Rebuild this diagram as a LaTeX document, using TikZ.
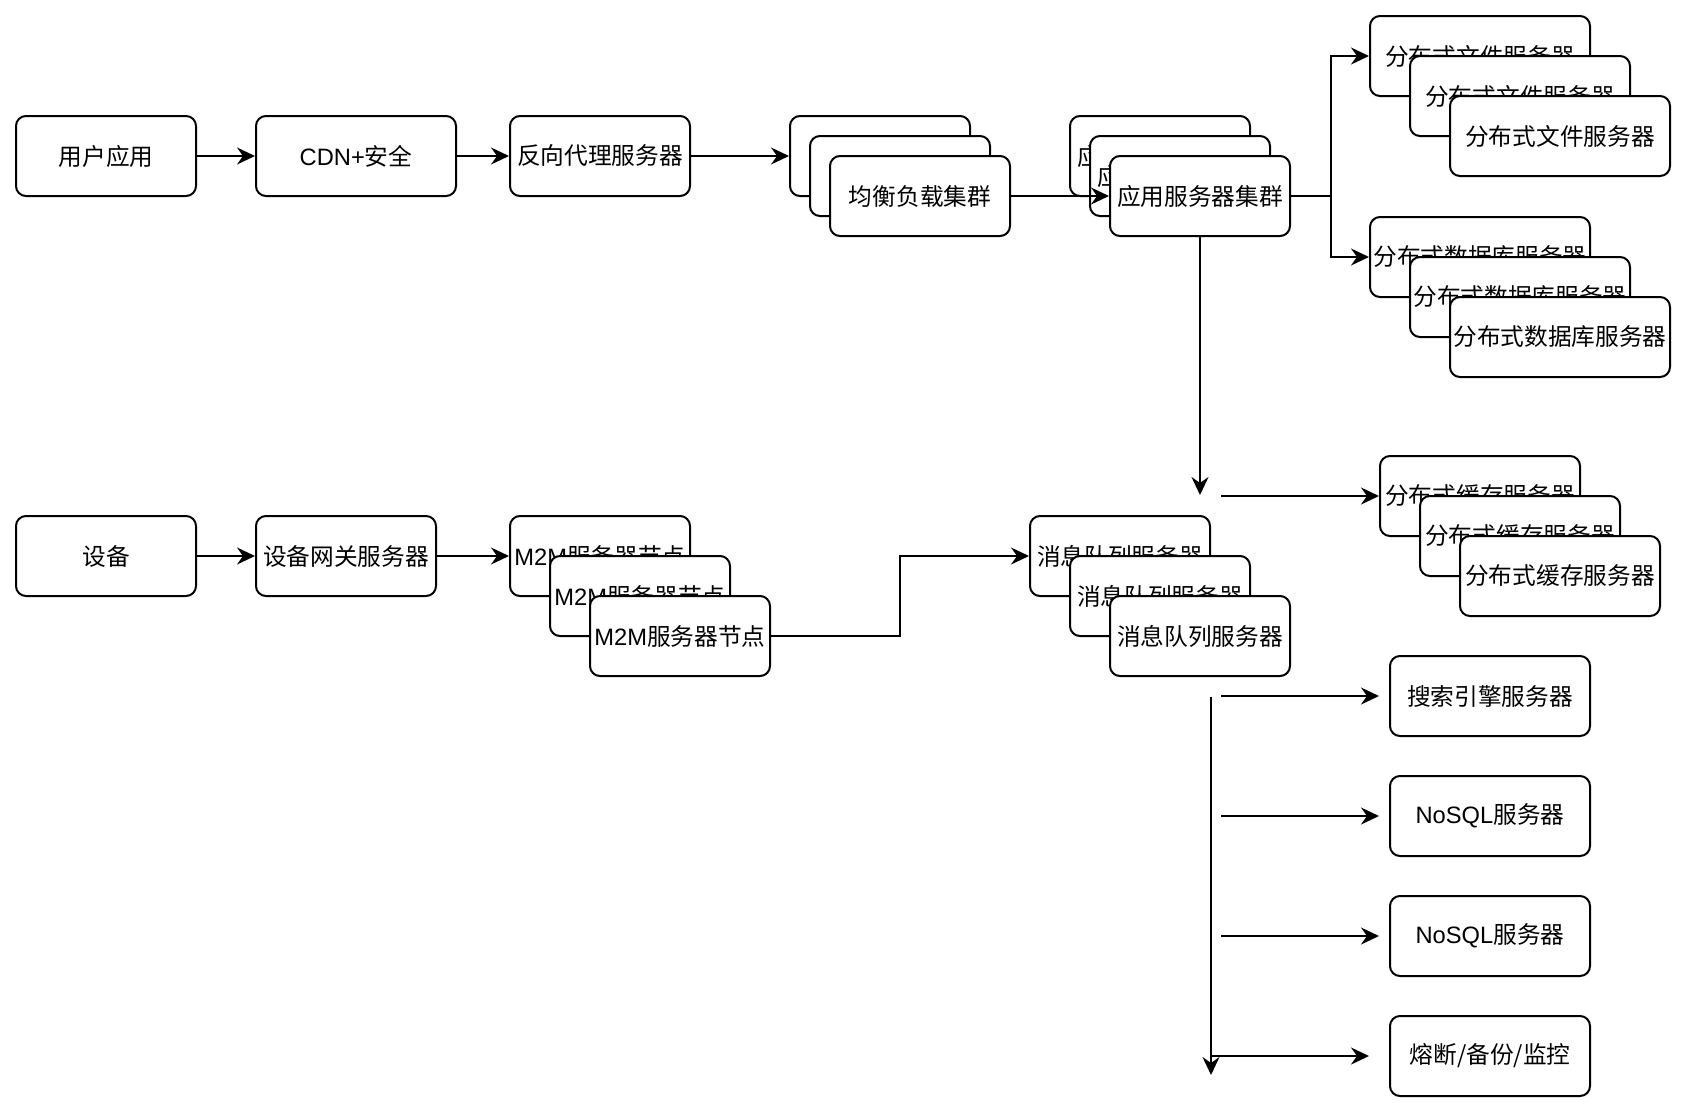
\documentclass[tikz,border=0pt]{standalone}
\usepackage{fontspec}
\setmainfont{Noto Sans CJK SC}
\newfontfamily\latin{Liberation Sans}
\usetikzlibrary{arrows.meta,positioning}

\begin{document}
\begin{tikzpicture}[x=0.5pt,y=-0.5pt,
  box/.style={draw, line width=1pt, rounded corners=5pt, fill=white,
    minimum height=40pt, inner sep=0pt, font=\fontsize{11.85pt}{14pt}\selectfont},
  arr/.style={line width=1pt, -{Stealth[length=9pt,width=8.5pt,inset=3pt]}}]
\useasboundingbox (0,0) rectangle (1688,1114);
% first row
\node[box, minimum width=90pt] (user) at (106,156) {用户应用};
\node[box, minimum width=100pt] (cdn) at (356,156) {{\latin CDN+}安全};
\node[box, minimum width=90pt] (proxy) at (600,156) {反向代理服务器};
% draw stacked clusters
\foreach \i in {1,2,3}{
   \node[box, minimum width=90pt] (lb\i) at (860+20*\i,136+20*\i) {均衡负载集群};
}
\foreach \i in {1,2,3}{
   \node[box, minimum width=90pt] (app\i) at (1140+20*\i,136+20*\i) {应用服务器集群};
}
% storage on the right
\foreach \i in {1,2,3}{
   \node[box, minimum width=110pt] (file\i) at (1440+40*\i,16+40*\i) {分布式文件服务器};
}
\foreach \i in {1,2,3}{
   \node[box, minimum width=110pt] (db\i) at (1440+40*\i,217+40*\i) {分布式数据库服务器};
}
\foreach \i in {1,2,3}{
   \node[box, minimum width=100pt] (cache\i) at (1440+40*\i,456+40*\i) {分布式缓存服务器};
}
% second row
\node[box, minimum width=90pt] (dev) at (106,556) {设备};
\node[box, minimum width=90pt] (gw) at (346,556) {设备网关服务器};
\foreach \i in {1,2,3}{
   \node[box, minimum width=90pt] (m2m\i) at (560+40*\i,516+40*\i) {{\latin M2M}服务器节点};
}
\foreach \i in {1,2,3}{
   \node[box, minimum width=90pt] (mq\i) at (1080+40*\i,516+40*\i) {消息队列服务器};
}
% services at the bottom
\node[box, minimum width=100pt] (search) at (1490,696) {搜索引擎服务器};
\node[box, minimum width=100pt] (nosqlA) at (1490,816) {{\latin NoSQL}服务器};
\node[box, minimum width=100pt] (nosqlB) at (1490,936) {{\latin NoSQL}服务器};
\node[box, minimum width=100pt] (guard) at (1490,1056) {熔断/备份/监控};
% free ends
\coordinate (append) at (1200,495);
\coordinate (cachetail) at (1221,496);
\coordinate (bustop) at (1211,697);
\coordinate (busend) at (1211,1075);
\coordinate (searchtail) at (1221,696);
\coordinate (nosqlAtail) at (1221,816);
\coordinate (nosqlBtail) at (1221,936);
\coordinate (guardtail) at (1211,1056);
% draw arrows
\draw[arr] (user) -- (cdn);
\draw[arr] (cdn) -- (proxy);
\draw[arr] (proxy) -- (lb1);
\draw[arr] (lb3) -- (app3);
\draw[arr] (app3.east) -- ++(40,0) |- (file1.west);
\draw[arr] (app3.east) -- ++(40,0) |- (db1.west);
\draw[arr] (app3) -- (append);
\draw[arr] (cachetail) -- (cache1.west);
\draw[arr] (dev) -- (gw);
\draw[arr] (gw) -- (m2m1);
\draw[arr] (m2m3.east) -- ++(129,0) |- (mq1.west);
\draw[arr] (bustop) -- (busend);
\draw[arr, shorten >=5pt] (searchtail) -- (search);
\draw[arr, shorten >=5pt] (nosqlAtail) -- (nosqlA);
\draw[arr, shorten >=5pt] (nosqlBtail) -- (nosqlB);
\draw[arr, shorten >=10pt] (guardtail) -- (guard);
\end{tikzpicture}
\end{document}
